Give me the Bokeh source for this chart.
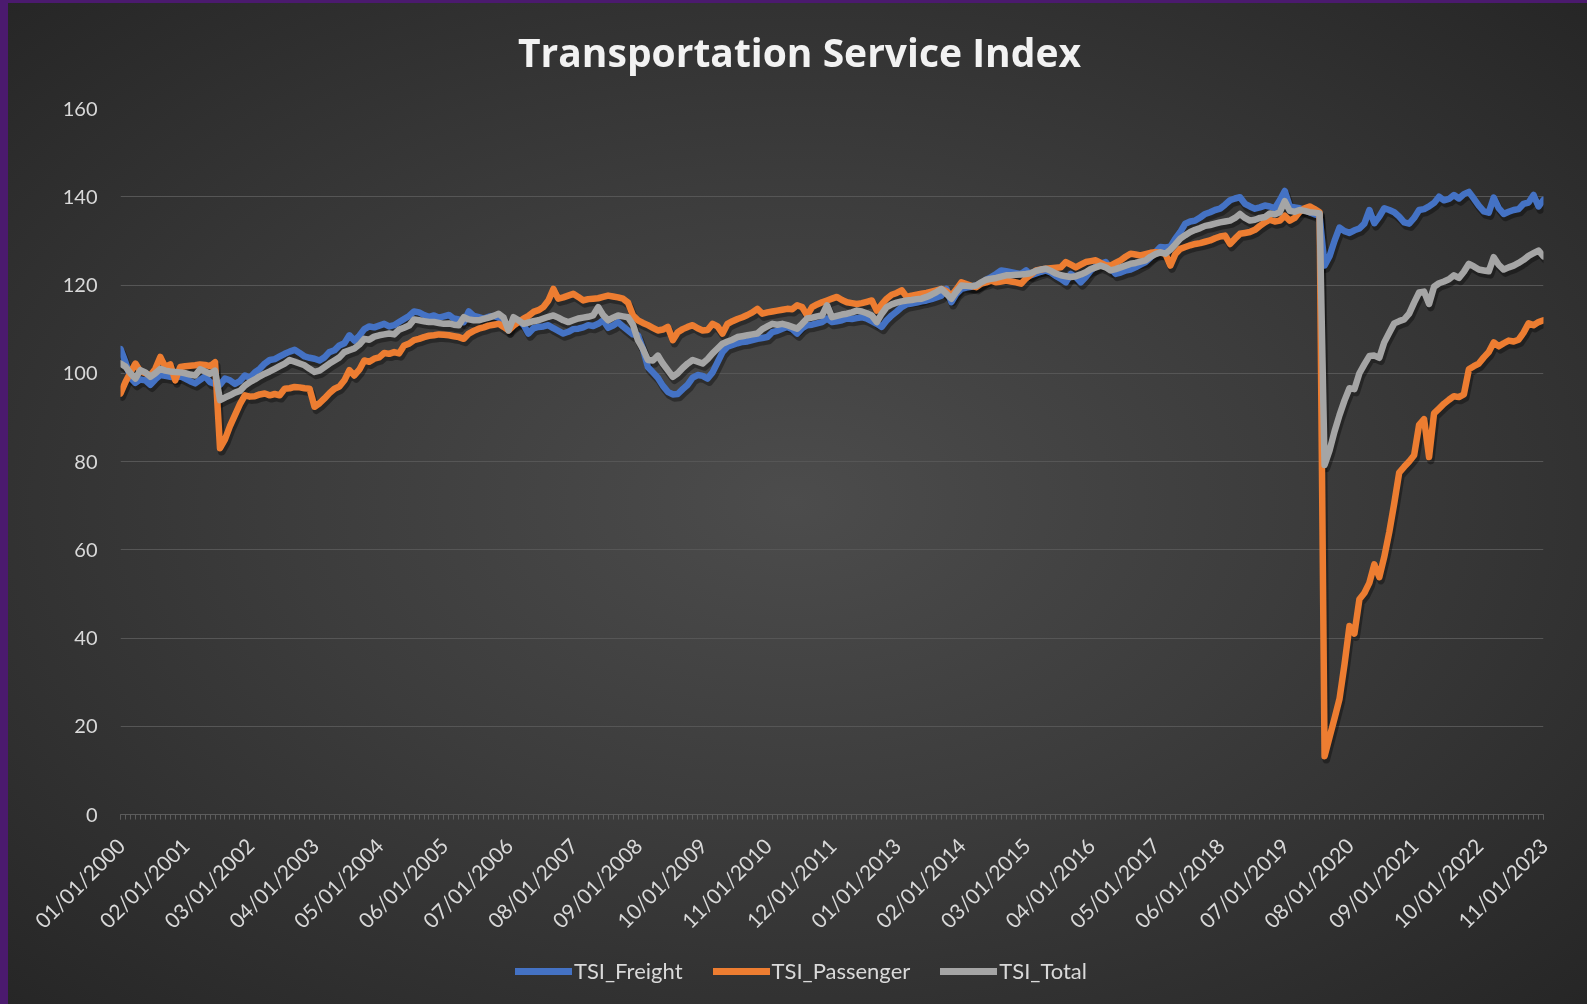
import pandas as pd
from math import pi
from bokeh.plotting import figure
from bokeh.layouts import column
from bokeh.models import Range1d, FixedTicker, Legend, LegendItem, ColumnDataSource, Label
from bokeh.transform import dodge
from bokeh.embed import file_html
from bokeh.resources import INLINE

months = pd.date_range("2000-01-01", periods=287, freq="MS").strftime("%m/%d/%Y").tolist()

tick_labels = ["01/01/2000", "02/01/2001", "03/01/2002", "04/01/2003", "05/01/2004",
               "06/01/2005", "07/01/2006", "08/01/2007", "09/01/2008", "10/01/2009",
               "11/01/2010", "12/01/2011", "01/01/2013", "02/01/2014", "03/01/2015",
               "04/01/2016", "05/01/2017", "06/01/2018", "07/01/2019", "08/01/2020",
               "09/01/2021", "10/01/2022", "11/01/2023"]
y_ticks = [0, 20, 40, 60, 80, 100, 120, 140, 160]

tsi_freight = [
    105.5, 102.5, 99.0, 97.8, 98.6, 98.4, 97.4, 98.6, 99.6, 99.4, 99.2, 99.0,
    99.3, 98.8, 98.2, 97.7, 98.5, 99.3, 98.0, 97.6, 97.4, 98.8, 98.4, 97.6,
    98.2, 99.5, 99.0, 100.2, 101.0, 102.2, 103.0, 103.2, 103.8, 104.4, 104.9, 105.3,
    104.6, 103.8, 103.5, 103.3, 102.9, 103.6, 104.8, 105.2, 106.3, 106.8, 108.6, 107.4,
    108.5, 110.0, 110.6, 110.4, 110.8, 111.2, 110.6, 110.9, 111.6, 112.3, 113.0, 114.0,
    113.8, 113.2, 112.8, 113.1, 112.6, 112.9, 113.2, 112.4, 112.2, 111.6, 114.0, 113.0,
    112.7, 112.4, 112.8, 113.0, 112.6, 111.8, 110.2, 111.0, 112.0, 111.0, 109.0, 110.2,
    110.5, 110.6, 110.9, 110.2, 109.6, 109.0, 109.4, 110.0, 110.1, 110.4, 110.9, 110.7,
    111.2, 112.0, 110.3, 110.8, 111.6, 110.6, 109.7, 108.8, 108.6, 105.5, 101.4, 100.2,
    99.0, 97.2, 95.8, 95.2, 95.3, 96.4, 97.4, 99.0, 99.6, 99.4, 98.8, 100.2,
    102.5, 104.8, 106.0, 106.4, 106.8, 107.1, 107.2, 107.5, 107.8, 108.0, 108.2, 109.3,
    109.6, 110.1, 110.5, 110.0, 109.0, 110.2, 110.9, 111.0, 111.3, 111.6, 112.4, 111.6,
    111.8, 112.0, 112.4, 112.3, 112.5, 112.7, 112.4, 111.8, 111.2, 110.5, 112.0, 113.1,
    114.0, 115.0, 115.6, 115.8, 116.0, 116.3, 116.5, 116.8, 117.2, 117.6, 119.1, 116.1,
    118.0, 119.1, 119.4, 119.6, 119.9, 120.4, 121.2, 121.8, 122.5, 123.3, 123.1, 122.9,
    122.7, 122.5, 123.3, 122.2, 122.6, 123.0, 123.3, 122.8, 122.0, 121.4, 120.6, 122.5,
    121.8, 120.6, 121.8, 123.3, 124.2, 124.8, 125.2, 123.8, 122.5, 122.8, 123.3, 123.5,
    124.0, 124.6, 125.2, 126.2, 127.4, 128.6, 128.5, 128.7, 130.5, 132.0, 133.9, 134.4,
    134.6, 135.3, 136.1, 136.5, 137.0, 137.3, 138.2, 139.2, 139.6, 139.9, 138.4, 137.8,
    137.3, 137.6, 138.0, 137.8, 137.4, 139.2, 141.3, 137.8, 137.6, 137.4, 137.0, 136.5,
    136.0, 135.7, 124.4, 126.5, 130.0, 133.0, 132.2, 131.8, 132.4, 132.8, 133.9, 137.0,
    134.0, 135.5, 137.4, 137.0, 136.5, 135.5, 134.2, 133.9, 135.2, 137.0, 137.2, 137.8,
    138.6, 140.0, 139.2, 139.5, 140.4, 139.6, 140.6, 141.1, 139.6, 138.0, 136.7, 136.4,
    139.8, 137.4, 136.1, 136.6, 137.0, 137.2, 138.4, 138.7, 140.4, 137.8, 139.3,
]

tsi_passenger = [
    95.4, 98.0, 100.2, 102.2, 100.4, 100.0, 99.5, 101.0, 103.7, 101.5, 102.0, 98.4,
    101.4, 101.6, 101.7, 101.8, 102.0, 101.9, 101.6, 102.5, 83.0, 85.0, 88.0, 90.5,
    93.0, 95.0, 94.7, 94.8, 95.2, 95.4, 95.0, 95.3, 95.0, 96.5, 96.6, 96.9,
    96.8, 96.6, 96.5, 92.4, 93.2, 94.3, 95.5, 96.5, 97.0, 98.4, 100.7, 99.5,
    100.8, 102.9, 102.6, 103.3, 103.6, 104.6, 104.4, 104.8, 104.5, 106.3, 106.7, 107.5,
    107.8, 108.2, 108.5, 108.6, 108.8, 108.7, 108.6, 108.4, 108.2, 107.8, 109.0, 109.6,
    110.1, 110.4, 110.8, 111.0, 111.2, 110.5, 109.7, 110.8, 111.6, 112.4, 113.0, 113.9,
    114.3, 115.0, 116.5, 119.1, 116.9, 117.2, 117.6, 118.0, 117.3, 116.5, 116.8, 116.9,
    117.0, 117.3, 117.6, 117.4, 117.2, 116.9, 116.0, 113.1, 112.0, 111.4, 110.9, 110.3,
    109.7, 109.9, 110.5, 107.5, 109.3, 110.0, 110.5, 110.9, 110.2, 109.7, 109.8, 111.2,
    110.6, 109.0, 111.2, 111.8, 112.3, 112.7, 113.2, 113.8, 114.6, 113.5, 113.8, 114.0,
    114.2, 114.4, 114.6, 114.5, 115.4, 115.0, 113.1, 115.0, 115.6, 116.1, 116.5, 116.9,
    117.3, 116.6, 116.1, 115.9, 115.7, 115.9, 116.2, 116.5, 114.2, 115.6, 116.9, 117.8,
    118.2, 118.8, 117.3, 117.6, 117.8, 118.0, 118.2, 118.5, 118.8, 119.1, 118.6, 117.6,
    119.0, 120.6, 120.2, 119.8, 119.5, 120.3, 120.6, 121.0, 120.6, 120.8, 121.0, 120.8,
    120.6, 120.3, 121.5, 122.4, 123.3, 123.5, 123.7, 123.8, 123.9, 124.0, 125.2, 124.6,
    124.0, 124.6, 125.2, 125.4, 125.6, 125.0, 124.5, 124.4, 125.0, 125.6, 126.4, 127.1,
    126.9, 126.7, 127.0, 127.3, 127.4, 127.3, 127.1, 124.4, 127.0, 128.2, 128.6, 129.0,
    129.3, 129.5, 129.8, 130.1, 130.6, 131.0, 131.2, 129.3, 130.5, 131.6, 131.8, 132.0,
    132.5, 133.4, 134.2, 134.8, 134.4, 134.6, 135.7, 134.6, 135.2, 136.6, 137.4, 137.8,
    137.2, 136.5, 13.2, 17.5, 21.8, 26.2, 34.0, 42.7, 41.0, 48.8, 50.2, 52.5,
    56.7, 53.8, 58.4, 64.0, 70.5, 77.5, 78.8, 80.0, 81.4, 88.3, 89.6, 81.0,
    90.9, 92.0, 93.1, 94.0, 94.8, 94.6, 95.2, 100.9, 101.6, 102.2, 103.6, 104.8,
    107.0, 106.1, 106.8, 107.4, 107.2, 107.6, 109.2, 111.3, 110.9, 111.6, 112.0,
]

tsi_total = [
    102.2, 101.5, 100.0, 98.8, 100.7, 100.2, 99.2, 100.0, 101.0, 100.6, 100.4, 100.3,
    100.2, 100.0, 99.7, 99.5, 100.9, 100.4, 99.9, 100.6, 93.9, 94.5, 95.0, 95.6,
    96.0, 97.2, 98.0, 98.6, 99.3, 99.9, 100.4, 101.0, 101.6, 102.2, 103.0, 102.6,
    102.2, 101.8, 101.0, 100.3, 100.6, 101.4, 102.2, 102.9, 103.6, 104.8, 105.2, 105.6,
    106.5, 107.8, 107.6, 108.3, 108.6, 108.8, 109.0, 108.8, 109.9, 110.3, 110.8, 112.2,
    112.0, 111.8, 111.6, 111.6, 111.4, 111.2, 111.3, 111.0, 110.9, 112.7, 112.2, 112.0,
    112.0, 112.3, 112.6, 113.0, 113.5, 112.6, 109.7, 112.7, 112.0, 111.2, 111.5, 111.8,
    112.0, 112.4, 112.8, 113.1, 112.6, 112.0, 111.6, 112.0, 112.4, 112.6, 112.8, 113.1,
    115.0, 113.2, 112.0, 112.6, 113.1, 112.9, 112.7, 111.0, 107.5, 105.5, 103.0, 102.9,
    104.0, 102.2, 100.7, 99.2, 100.0, 101.2, 102.2, 103.0, 102.6, 102.2, 103.2, 104.5,
    105.6, 106.7, 107.2, 107.6, 108.2, 108.4, 108.6, 108.8, 109.0, 110.0, 110.6, 111.2,
    111.0, 111.2, 110.9, 110.5, 110.1, 111.2, 112.4, 112.6, 112.9, 113.1, 115.4, 112.7,
    113.0, 113.3, 113.5, 113.8, 114.2, 114.0, 113.6, 113.1, 111.6, 113.5, 115.0, 115.6,
    116.0, 116.3, 116.5, 116.6, 116.8, 116.9, 117.3, 117.8, 118.4, 119.1, 118.0, 116.9,
    118.5, 119.9, 119.8, 119.7, 119.9, 120.6, 121.2, 121.4, 121.6, 121.9, 122.2, 122.2,
    122.3, 122.4, 122.5, 122.7, 123.2, 123.5, 123.7, 123.2, 122.6, 122.2, 122.0, 121.8,
    122.0, 122.4, 122.9, 123.6, 124.0, 124.4, 124.0, 123.3, 123.6, 124.0, 124.4, 124.8,
    125.0, 125.3, 125.6, 126.4, 127.0, 127.4, 127.1, 128.0, 129.2, 130.5, 131.3, 132.0,
    132.5, 132.9, 133.4, 133.6, 133.9, 134.2, 134.4, 134.6, 135.2, 136.1, 135.2, 134.6,
    134.8, 135.2, 135.4, 136.2, 136.0, 136.5, 139.0, 136.8, 136.6, 137.0, 136.8, 136.5,
    136.4, 136.2, 79.2, 82.5, 86.8, 90.5, 93.8, 96.6, 96.4, 100.0, 102.0, 103.9,
    104.0, 103.5, 107.0, 109.2, 111.3, 111.8, 112.2, 113.5, 116.0, 118.3, 118.5, 115.7,
    119.6, 120.4, 120.8, 121.3, 122.2, 121.6, 123.0, 124.8, 124.2, 123.5, 123.3, 123.1,
    126.3, 124.6, 123.5, 124.0, 124.4, 125.0, 125.7, 126.6, 127.2, 127.8, 126.5,
]

chart_title = "Transportation Service Index"
series_names = ["TSI_Freight", "TSI_Passenger", "TSI_Total"]
series_colors = ["#4472C4", "#ED7D31", "#A5A5A5"]

assert len(tsi_freight) == len(months) == len(tsi_passenger) == len(tsi_total)

source = ColumnDataSource(dict(
    x=list(range(len(months))),
    month=months,
    TSI_Freight=tsi_freight,
    TSI_Passenger=tsi_passenger,
    TSI_Total=tsi_total,
))

W, H = 1587, 1004
FL, FR, FT, FB = 120, 44, 108, 190   # frame margins
fixed_css = {"position": "fixed", "left": "0px", "top": "0px"}

# ---------------- main chart ----------------
fig = figure(width=W, height=H, output_backend="svg", toolbar_location=None,
             x_range=Range1d(0, len(months) - 1), y_range=Range1d(y_ticks[0], y_ticks[-1]),
             min_border_left=FL, min_border_right=FR, min_border_top=FT, min_border_bottom=FB)
fig.background_fill_alpha = 0
fig.border_fill_alpha = 0
fig.outline_line_color = None
fig.styles = dict(fixed_css, background=(
    "linear-gradient(to right, #4b1a6e 0px, #4b1a6e 8px, transparent 8px), "
    "linear-gradient(to bottom, #4b1a6e 0px, #4b1a6e 3px, transparent 3px), "
    "radial-gradient(ellipse farthest-corner at 50% 50%, #4c4c4c 0%, #3c3c3c 45%, #262626 100%)"))

tick_pos = [months.index(t) for t in tick_labels]
xa = fig.xaxis[0]
xa.ticker = FixedTicker(ticks=tick_pos, minor_ticks=list(range(len(months))))
xa.major_label_overrides = {pos: lab for pos, lab in zip(tick_pos, tick_labels)}
xa.major_label_orientation = pi / 4
xa.major_label_text_font = "Lato"
xa.major_label_text_font_size = "21px"
xa.major_label_text_color = "#d9d9d9"
xa.major_label_standoff = 22
xa.axis_line_color = "#5c5c5c"
xa.major_tick_line_color = "#5c5c5c"
xa.minor_tick_line_color = "#5c5c5c"
xa.major_tick_in = 0
xa.major_tick_out = 5
xa.minor_tick_in = 0
xa.minor_tick_out = 5

ya = fig.yaxis[0]
ya.ticker = FixedTicker(ticks=y_ticks)
ya.major_label_text_font = "Lato"
ya.major_label_text_font_size = "20px"
ya.major_label_text_color = "#d9d9d9"
ya.major_label_standoff = 17
ya.axis_line_color = None
ya.major_tick_line_color = None
ya.minor_tick_line_color = None

fig.xgrid.grid_line_color = None
fig.ygrid.grid_line_color = "#565656"
fig.ygrid.grid_line_width = 1.2

for name in series_names:
    fig.line(x=dodge("x", 0.35), y=dodge(name, -0.8), source=source, line_color="#000000",
             line_alpha=0.35, line_width=7.5, line_join="round", line_cap="round")
for name, color in zip(series_names, series_colors):
    fig.line(x="x", y=name, source=source, line_color=color, line_width=6.5,
             line_join="round", line_cap="round")

# ---------------- overlay: title + legend over the whole page ----------------
ov = figure(width=W, height=H, output_backend="svg", toolbar_location=None,
            x_range=Range1d(0, 1), y_range=Range1d(0, 1),
            x_axis_location=None, y_axis_location=None,
            min_border_left=0, min_border_right=0, min_border_top=0, min_border_bottom=0)
ov.background_fill_alpha = 0
ov.border_fill_alpha = 0
ov.outline_line_color = None
ov.grid.visible = False
ov.styles = dict(fixed_css)

OVX = -121  # horizontal correction measured from the previous render
ov.add_layout(Label(x=800 + OVX, y=H - 51, x_units="screen", y_units="screen",
                    text=chart_title, text_align="center", text_baseline="middle",
                    text_font="Open Sans", text_font_style="bold", text_font_size="39px",
                    text_color="#f2f2f2"))

# legend swatches use the same series (out of this overlay's view)
legend_renderers = [ov.line(x="x", y=name, source=source, line_color=color, line_width=7,
                            line_cap="round")
                    for name, color in zip(series_names, series_colors)]
legend = Legend(items=[LegendItem(label=n, renderers=[r]) for n, r in zip(series_names, legend_renderers)],
                orientation="horizontal", location=(511 + OVX, 15),
                label_text_font="Lato", label_text_font_size="22px", label_text_color="#d9d9d9",
                background_fill_alpha=0, border_line_alpha=0,
                glyph_width=57, glyph_height=20, spacing=30, label_standoff=2, margin=0, padding=5)
ov.add_layout(legend)

p = column(fig, ov)
open("out.html", "w").write(file_html(p, INLINE))
